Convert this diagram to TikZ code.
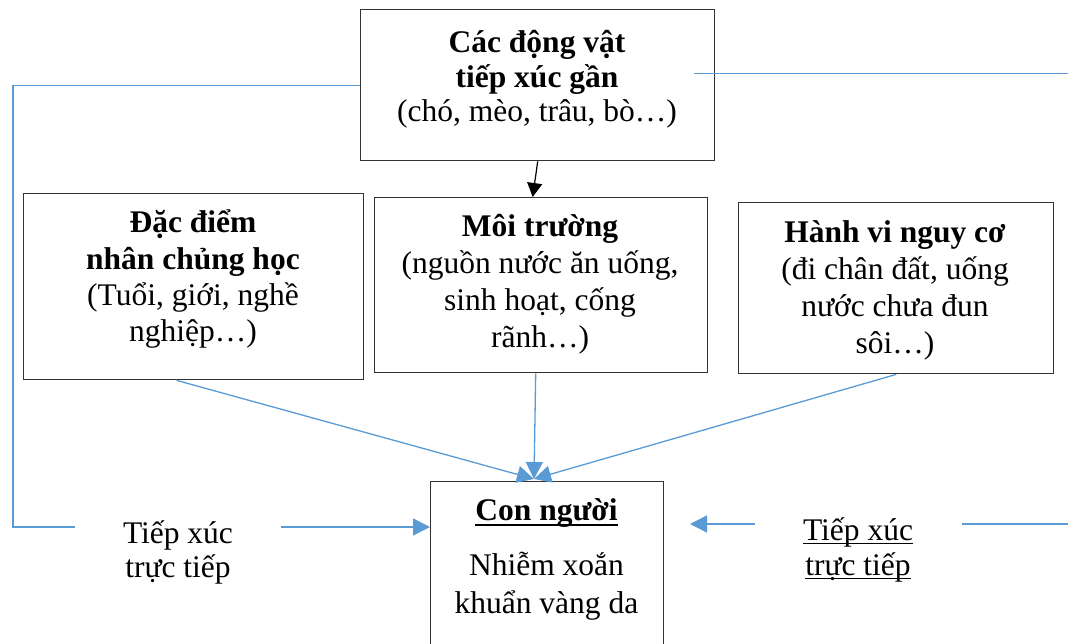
\documentclass[tikz,border=0pt]{standalone}
\usepackage{fontspec}
\setmainfont{Liberation Serif}
\usetikzlibrary{arrows.meta}
\definecolor{lnblue}{HTML}{5B9BD5}
\newsavebox\ulbox
\newcommand\myul[3]{\sbox\ulbox{#3}\rlap{\rule[#1]{\wd\ulbox}{#2}}\usebox\ulbox}
\newcommand\mylines[2]{\vtop{\lineskiplimit=-100pt\baselineskip=#1\halign{\hfil##\hfil\cr#2\crcr}}}
\begin{document}
\begin{tikzpicture}[x=1pt,y=-1pt,
  box/.style={draw=black!80,line width=1.4pt,inner sep=0pt,anchor=north west},
  txt/.style={inner sep=0pt,anchor=base,font=\fontsize{31.5}{36}\selectfont},
  bl/.style={draw=lnblue,line width=1.3pt},
  blarrow/.style={bl,-{Triangle[length=17pt,width=17pt]}},
  blkarrow/.style={draw=black,line width=1.2pt,-{Triangle[length=14pt,width=15pt]}}]
\useasboundingbox (0,0) rectangle (1068,644);
% boxes
\node[box,minimum width=354pt,minimum height=151pt] (animals) at (360,9) {};
\node[box,minimum width=340pt,minimum height=186pt] (demo) at (23,193) {};
\node[box,minimum width=333pt,minimum height=175pt] (env) at (374,197) {};
\node[box,minimum width=315pt,minimum height=171pt] (behav) at (738,202) {};
\node[box,minimum width=233pt,minimum height=190pt] (human) at (430,481) {};
% texts
\node[txt] (tAnimals) at (537,53) {\mylines{34.5pt}{\textbf{Các động vật}\cr\textbf{tiếp xúc gần}\cr(chó, mèo, trâu, bò…)}};
\node[txt] (tDemo) at (193,233) {\mylines{36.3pt}{\textbf{Đặc điểm}\cr\textbf{nhân chủng học}\cr(Tuổi, giới, nghề\cr nghiệp…)}};
\node[txt] (tEnv) at (540,237) {\mylines{37pt}{\textbf{Môi trường}\cr(nguồn nước ăn uống,\cr sinh hoạt, cống\cr rãnh…)}};
\node[txt] (tBehav) at (895,243) {\mylines{36.7pt}{\textbf{Hành vi nguy cơ}\cr(đi chân đất, uống\cr nước chưa đun\cr sôi…)}};
\node[txt] (tHumTitle) at (546.5,520) {\textbf{\myul{-0.19em}{0.07em}{Con người}}};
\node[txt] (tHum) at (546.5,575) {\mylines{38pt}{Nhiễm xoắn\cr khuẩn vàng da}};
\node[txt] (lblL) at (178,543) {\mylines{34pt}{Tiếp xúc\cr trực tiếp}};
\node[txt] (lblR) at (858,540) {\mylines{35pt}{\myul{-0.13em}{0.05em}{Tiếp xúc}\cr\myul{-0.13em}{0.05em}{trực tiếp}}};
% coordinates
\coordinate (cornerL) at (13,527);
\coordinate (lA) at (75,527);
\coordinate (lB) at (281,527);
\coordinate (rT1) at (694,73.5);
\coordinate (rT2) at (1068,73.5);
\coordinate (rB1) at (962,524);
\coordinate (rB2) at (1068,524);
\coordinate (rA) at (755,524);
\coordinate (rAend) at (690,524);
\coordinate (meet) at (534,479);
% connectors
\draw[blkarrow] (animals.south) -- ([xshift=-8.5pt]env.north);
\draw[bl] (animals.west) -| (cornerL) -- (lA);
\draw[blarrow] (lB) -- (lB -| human.west);
\draw[bl] (rT1) -- (rT2);
\draw[bl] (rB1) -- (rB2);
\draw[blarrow] (rA) -- (rAend);
\draw[blarrow] ([xshift=-17pt]demo.south) -- (meet);
\draw[blarrow] ([xshift=-5.5pt]env.south) -- (meet);
\draw[blarrow] (behav.south) -- (meet);
\end{tikzpicture}
\end{document}
